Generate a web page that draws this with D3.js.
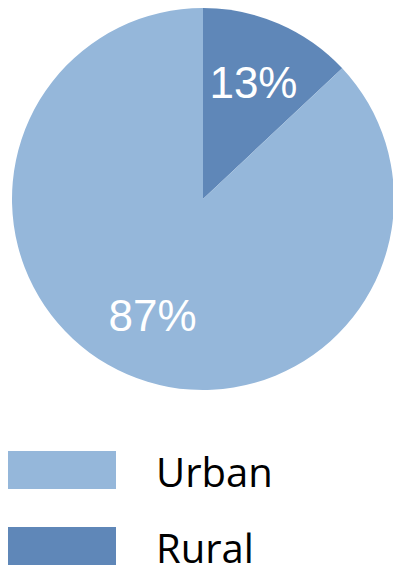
<!DOCTYPE html>
<html>
<head>
<meta charset="utf-8">
<script src="https://cdn.jsdelivr.net/npm/d3@7"></script>
<style>
  body { margin: 0; background: #fff; }
</style>
</head>
<body>
<div class="chart"></div>
<script>
let categories = ["Rural", "Urban"];
let shares = [13, 87];
let sliceLabels = ["13%", "87%"];
let legendOrder = ["Urban", "Rural"];

let svgWidth = 393;
let svgHeight = 571;

let colors = d3.scaleOrdinal()
    .domain(categories)
    .range(["#5f87b8", "#95b7da"]);

let svg = d3.select(".chart")
    .append("svg")
    .attr("width", svgWidth)
    .attr("height", svgHeight);

let radius = 191;
let pieGroup = svg.append("g")
    .attr("transform", "translate(203, 199)");

let data = categories.map((c, i) => ({ name: c, value: shares[i], label: sliceLabels[i] }));

let pie = d3.pie()
    .value(d => d.value)
    .sort(null);

let arc = d3.arc()
    .innerRadius(0)
    .outerRadius(radius);

let labelArc = d3.arc()
    .innerRadius(127)
    .outerRadius(127);

pieGroup.selectAll("path")
    .data(pie(data))
    .enter()
    .append("path")
    .attr("d", arc)
    .attr("fill", d => colors(d.data.name));

pieGroup.selectAll(".slice-label")
    .data(pie(data))
    .enter()
    .append("text")
    .attr("class", "slice-label")
    .attr("transform", d => `translate(${labelArc.centroid(d)})`)
    .attr("text-anchor", "middle")
    .attr("dy", "0.35em")
    .attr("fill", "#fff")
    .style("font-family", "'Liberation Sans', Arial, sans-serif")
    .style("font-size", "44px")
    .text(d => d.data.label);

// legend
let legendY = d3.scaleBand()
    .domain(legendOrder)
    .range([451, 603])
    .paddingInner(0);

let legend = svg.selectAll(".legend")
    .data(legendOrder)
    .enter()
    .append("g")
    .attr("class", "legend")
    .attr("transform", d => `translate(0, ${legendY(d)})`);

legend.append("rect")
    .attr("x", 8)
    .attr("y", 0)
    .attr("width", 108)
    .attr("height", 38)
    .attr("fill", d => colors(d));

legend.append("text")
    .attr("x", 156)
    .attr("y", 36)
    .style("font-family", "'Open Sans', sans-serif")
    .style("font-size", "40px")
    .attr("fill", "#000")
    .text(d => d);
</script>
</body>
</html>
